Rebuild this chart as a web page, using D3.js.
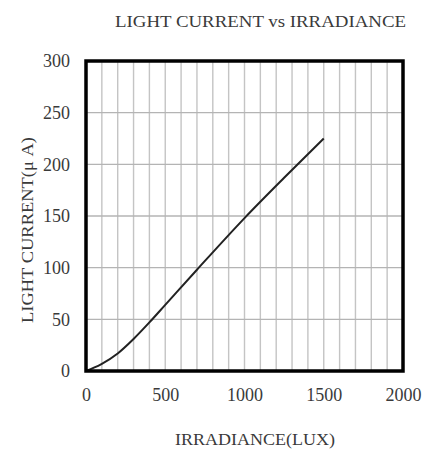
<!DOCTYPE html>
<html lang="en">
<head>
  <meta charset="UTF-8">
  <title>Light Current vs Irradiance</title>
  <script src="https://d3js.org/d3.v7.min.js"></script>
  <style>
    body { margin: 0; background: #fff; }
    text { font-family: "Liberation Serif", "DejaVu Serif", serif; fill: #3a3a3a; }
  </style>
</head>
<body>
  <svg id="chart" width="429" height="450"></svg>
  <script>
    // curve (lux, uA)
    const irradiance = [0, 50, 100, 200, 300, 400, 500, 700, 1000, 1250, 1500];
    const lightCurrent = [0, 3.2, 7, 17, 31, 47, 64, 98, 148, 187, 225];
    const xTicks = [0, 500, 1000, 1500, 2000];
    const yTicks = [0, 50, 100, 150, 200, 250, 300];

    const svg = d3.select("#chart");
    const margin = { top: 61, right: 26, bottom: 79, left: 86 };
    const width = 429 - margin.left - margin.right;
    const height = 450 - margin.top - margin.bottom;

    const x = d3.scaleLinear().domain([0, 2000]).range([0, width]);
    const y = d3.scaleLinear().domain([0, 300]).range([height, 0]);

    const g = svg.append("g")
      .attr("transform", `translate(${margin.left},${margin.top})`);

    // grid
    g.append("g")
      .selectAll("line")
      .data(d3.range(100, 2000, 100))
      .join("line")
      .attr("x1", d => x(d)).attr("x2", d => x(d))
      .attr("y1", 0).attr("y2", height)
      .attr("stroke", "#c4c4c4").attr("stroke-width", 1.4);

    g.append("g")
      .selectAll("line")
      .data(yTicks.slice(1, -1))
      .join("line")
      .attr("x1", 0).attr("x2", width)
      .attr("y1", d => y(d)).attr("y2", d => y(d))
      .attr("stroke", "#b4b4b4").attr("stroke-width", 1.4);

    // curve
    const data = irradiance.map((d, i) => [d, lightCurrent[i]]);
    g.append("path")
      .datum(data)
      .attr("fill", "none")
      .attr("stroke", "#222")
      .attr("stroke-width", 2)
      .attr("d", d3.line().x(d => x(d[0])).y(d => y(d[1])).curve(d3.curveMonotoneX));

    // frame
    g.append("rect")
      .attr("width", width).attr("height", height)
      .attr("fill", "none").attr("stroke", "#000").attr("stroke-width", 3.5);

    // tick labels
    const xAxis = g.append("g")
      .attr("transform", `translate(0,${height})`)
      .call(d3.axisBottom(x).tickValues(xTicks).tickSize(0).tickPadding(17).tickFormat(d3.format("d")));
    const yAxis = g.append("g")
      .call(d3.axisLeft(y).tickValues(yTicks).tickSize(0).tickPadding(16).tickFormat(d3.format("d")));
    [xAxis, yAxis].forEach(a => {
      a.select(".domain").remove();
      a.selectAll("text").attr("font-size", 18).attr("font-family", null).attr("fill", "#3a3a3a");
    });

    // titles
    svg.append("text")
      .attr("x", 115).attr("y", 26.5)
      .attr("font-size", 17)
      .attr("textLength", 291).attr("lengthAdjust", "spacingAndGlyphs")
      .text("LIGHT CURRENT vs IRRADIANCE");

    svg.append("text")
      .attr("x", 175).attr("y", 445)
      .attr("font-size", 17)
      .attr("textLength", 160).attr("lengthAdjust", "spacingAndGlyphs")
      .text("IRRADIANCE(LUX)");

    svg.append("text")
      .attr("transform", "translate(33,323) rotate(-90)")
      .attr("font-size", 17)
      .attr("fill", "#555")
      .attr("textLength", 186).attr("lengthAdjust", "spacingAndGlyphs")
      .text("LIGHT CURRENT(\u03bc A)");
  </script>
</body>
</html>
